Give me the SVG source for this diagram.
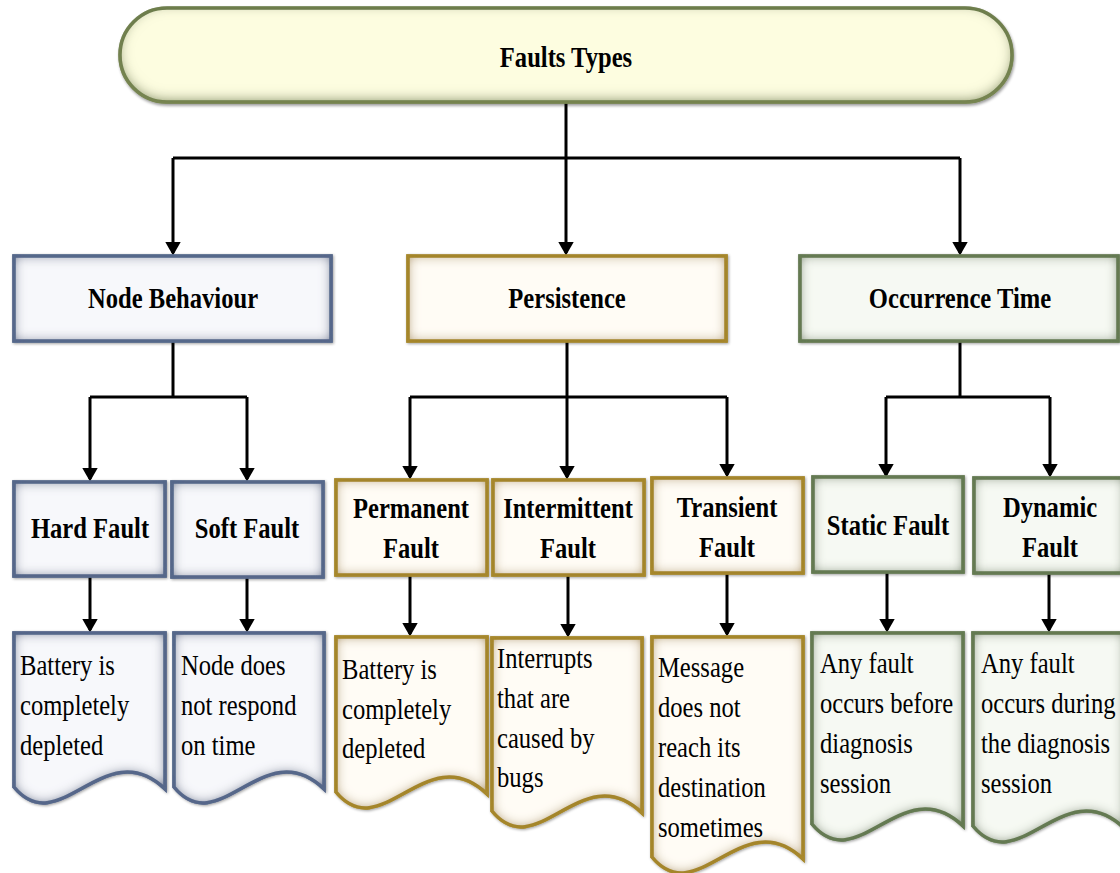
<svg xmlns="http://www.w3.org/2000/svg" width="1120" height="873" viewBox="0 0 1120 873">
  <style>
    .head { font-family: "Liberation Serif", "Times New Roman", serif; font-size: 30px; font-weight: bold; fill: #000; text-anchor: middle; }
    .body { font-family: "Liberation Serif", "Times New Roman", serif; font-size: 30px; fill: #000; }
    .blue  { fill: #f7f8fb; stroke: #56678a; stroke-width: 3.5; filter: url(#glow-blue); }
    .gold  { fill: #fffcf5; stroke: #a0822c; stroke-width: 3.5; filter: url(#glow-gold); }
    .green { fill: #f6f9f3; stroke: #657a53; stroke-width: 3.5; filter: url(#glow-green); }
    .pill  { fill: #fdfde0; stroke: #66774a; stroke-width: 3.5; filter: url(#glow-pill); }
    .conn path { fill: none; stroke: #000; stroke-width: 3; }
    .conn .arrow { marker-end: url(#head); }
  </style>
  <defs>
    <marker id="head" viewBox="0 0 14 16" refX="11.5" refY="8" markerWidth="14" markerHeight="16" markerUnits="userSpaceOnUse" orient="auto">
      <path d="M0,0 L14,8 L0,16 Z" fill="#000"/>
    </marker>
    <!-- soft inner edge tint plus a faint outer shadow -->
    <filter id="glow-blue" x="-10%" y="-10%" width="120%" height="120%">
      <feGaussianBlur in="SourceAlpha" stdDeviation="1.5" result="sb"/>
      <feOffset in="sb" dx="1" dy="1" result="so"/>
      <feComponentTransfer in="so" result="shadow"><feFuncA type="linear" slope="0.4"/></feComponentTransfer>
      <feFlood flood-color="#56678a" result="c"/>
      <feComposite in="c" in2="SourceAlpha" operator="out" result="outside"/>
      <feGaussianBlur in="outside" stdDeviation="6.5" result="blur"/>
      <feComponentTransfer in="blur" result="boost"><feFuncA type="linear" slope="1.5"/></feComponentTransfer>
      <feComposite in="boost" in2="SourceAlpha" operator="in" result="inner"/>
      <feMerge><feMergeNode in="shadow"/><feMergeNode in="SourceGraphic"/><feMergeNode in="inner"/></feMerge>
    </filter>
    <filter id="glow-gold" x="-10%" y="-10%" width="120%" height="120%">
      <feGaussianBlur in="SourceAlpha" stdDeviation="1.5" result="sb"/>
      <feOffset in="sb" dx="1" dy="1" result="so"/>
      <feComponentTransfer in="so" result="shadow"><feFuncA type="linear" slope="0.4"/></feComponentTransfer>
      <feFlood flood-color="#a8892f" result="c"/>
      <feComposite in="c" in2="SourceAlpha" operator="out" result="outside"/>
      <feGaussianBlur in="outside" stdDeviation="6.5" result="blur"/>
      <feComponentTransfer in="blur" result="boost"><feFuncA type="linear" slope="1.4"/></feComponentTransfer>
      <feComposite in="boost" in2="SourceAlpha" operator="in" result="inner"/>
      <feMerge><feMergeNode in="shadow"/><feMergeNode in="SourceGraphic"/><feMergeNode in="inner"/></feMerge>
    </filter>
    <filter id="glow-green" x="-10%" y="-10%" width="120%" height="120%">
      <feGaussianBlur in="SourceAlpha" stdDeviation="1.5" result="sb"/>
      <feOffset in="sb" dx="1" dy="1" result="so"/>
      <feComponentTransfer in="so" result="shadow"><feFuncA type="linear" slope="0.4"/></feComponentTransfer>
      <feFlood flood-color="#657a53" result="c"/>
      <feComposite in="c" in2="SourceAlpha" operator="out" result="outside"/>
      <feGaussianBlur in="outside" stdDeviation="6.5" result="blur"/>
      <feComponentTransfer in="blur" result="boost"><feFuncA type="linear" slope="1.4"/></feComponentTransfer>
      <feComposite in="boost" in2="SourceAlpha" operator="in" result="inner"/>
      <feMerge><feMergeNode in="shadow"/><feMergeNode in="SourceGraphic"/><feMergeNode in="inner"/></feMerge>
    </filter>
    <filter id="glow-pill" x="-5%" y="-20%" width="110%" height="140%">
      <feGaussianBlur in="SourceAlpha" stdDeviation="1.5" result="sb"/>
      <feOffset in="sb" dx="1" dy="2" result="so"/>
      <feComponentTransfer in="so" result="shadow"><feFuncA type="linear" slope="0.4"/></feComponentTransfer>
      <feFlood flood-color="#7d8a55" result="c"/>
      <feComposite in="c" in2="SourceAlpha" operator="out" result="outside"/>
      <feOffset in="outside" dx="0" dy="-3" result="up"/>
      <feGaussianBlur in="up" stdDeviation="7" result="blur"/>
      <feComponentTransfer in="blur" result="boost"><feFuncA type="linear" slope="1.2"/></feComponentTransfer>
      <feComposite in="boost" in2="SourceAlpha" operator="in" result="inner"/>
      <feMerge><feMergeNode in="shadow"/><feMergeNode in="SourceGraphic"/><feMergeNode in="inner"/></feMerge>
    </filter>
  </defs>

  <rect width="1120" height="873" fill="#fff"/>

  <!-- connectors -->
  <g id="connectors" class="conn">
    <path class="arrow" d="M566,102 V253"/>
    <path d="M173,158 H960"/>
    <path class="arrow" d="M173,158 V253"/>
    <path class="arrow" d="M960,158 V253"/>

    <path d="M173,341 V397"/>
    <path d="M90,397 H247"/>
    <path class="arrow" d="M90,397 V479"/>
    <path class="arrow" d="M247,397 V479"/>

    <path class="arrow" d="M567,341 V477"/>
    <path d="M410,397 H727"/>
    <path class="arrow" d="M410,397 V477"/>
    <path class="arrow" d="M727,397 V475"/>

    <path d="M960,341 V397"/>
    <path d="M886,397 H1050"/>
    <path class="arrow" d="M886,397 V475"/>
    <path class="arrow" d="M1050,397 V475"/>

    <path class="arrow" d="M90,576 V630"/>
    <path class="arrow" d="M247,577 V630"/>
    <path class="arrow" d="M410,575 V634"/>
    <path class="arrow" d="M568,575 V635"/>
    <path class="arrow" d="M727,573 V634"/>
    <path class="arrow" d="M887,572 V630"/>
    <path class="arrow" d="M1049,573 V630"/>
  </g>

  <!-- root -->
  <g id="faults-types">
    <rect class="pill" x="120" y="8" width="892" height="94" rx="47" ry="47"/>
    <text class="head" transform="translate(566,67) scale(0.82,1)">Faults Types</text>
  </g>

  <!-- categories -->
  <g id="node-behaviour">
    <rect class="blue" x="14" y="256" width="317" height="85"/>
    <text class="head" transform="translate(173,308) scale(0.82,1)">Node Behaviour</text>
  </g>
  <g id="persistence">
    <rect class="gold" x="408" y="256" width="318" height="85"/>
    <text class="head" transform="translate(567,308) scale(0.82,1)">Persistence</text>
  </g>
  <g id="occurrence-time">
    <rect class="green" x="800" y="256" width="318" height="85"/>
    <text class="head" transform="translate(960,308) scale(0.82,1)">Occurrence Time</text>
  </g>

  <!-- fault types -->
  <g id="hard-fault">
    <rect class="blue" x="14" y="482" width="151" height="94"/>
    <text class="head" transform="translate(90,538) scale(0.82,1)">Hard Fault</text>
  </g>
  <g id="soft-fault">
    <rect class="blue" x="172" y="482" width="151" height="95"/>
    <text class="head" transform="translate(247,538) scale(0.82,1)">Soft Fault</text>
  </g>
  <g id="permanent-fault">
    <rect class="gold" x="336" y="480" width="151" height="95"/>
    <text class="head" transform="translate(411,518) scale(0.82,1)">Permanent</text>
    <text class="head" transform="translate(411,558) scale(0.82,1)">Fault</text>
  </g>
  <g id="intermittent-fault">
    <rect class="gold" x="493" y="480" width="151" height="95"/>
    <text class="head" transform="translate(568,518) scale(0.82,1)">Intermittent</text>
    <text class="head" transform="translate(568,558) scale(0.82,1)">Fault</text>
  </g>
  <g id="transient-fault">
    <rect class="gold" x="652" y="478" width="151" height="95"/>
    <text class="head" transform="translate(727,517) scale(0.82,1)">Transient</text>
    <text class="head" transform="translate(727,557) scale(0.82,1)">Fault</text>
  </g>
  <g id="static-fault">
    <rect class="green" x="813" y="477" width="150" height="95"/>
    <text class="head" transform="translate(888,535) scale(0.82,1)">Static Fault</text>
  </g>
  <g id="dynamic-fault">
    <rect class="green" x="974" y="478" width="150" height="95"/>
    <text class="head" transform="translate(1050,517) scale(0.82,1)">Dynamic</text>
    <text class="head" transform="translate(1050,557) scale(0.82,1)">Fault</text>
  </g>

  <!-- descriptions -->
  <g id="hard-fault-desc">
    <path class="blue" d="M14,633 H165 V789 C104.6,732 59.3,842 14,787 Z"/>
    <text class="body" transform="translate(20,675) scale(0.82,1)">Battery is</text>
    <text class="body" transform="translate(20,715) scale(0.82,1)">completely</text>
    <text class="body" transform="translate(20,755) scale(0.82,1)">depleted</text>
  </g>
  <g id="soft-fault-desc">
    <path class="blue" d="M174,633 H324 V789 C264,732 219,842 174,787 Z"/>
    <text class="body" transform="translate(181,675) scale(0.82,1)">Node does</text>
    <text class="body" transform="translate(181,715) scale(0.82,1)">not respond</text>
    <text class="body" transform="translate(181,755) scale(0.82,1)">on time</text>
  </g>
  <g id="permanent-fault-desc">
    <path class="gold" d="M336,637 H487 V794 C426.6,737 381.3,847 336,792 Z"/>
    <text class="body" transform="translate(342,679) scale(0.82,1)">Battery is</text>
    <text class="body" transform="translate(342,719) scale(0.82,1)">completely</text>
    <text class="body" transform="translate(342,758) scale(0.82,1)">depleted</text>
  </g>
  <g id="intermittent-fault-desc">
    <path class="gold" d="M492,638 H642 V813 C582,756 537,866 492,811 Z"/>
    <text class="body" transform="translate(497,668) scale(0.82,1)">Interrupts</text>
    <text class="body" transform="translate(497,708) scale(0.82,1)">that are</text>
    <text class="body" transform="translate(497,748) scale(0.82,1)">caused by</text>
    <text class="body" transform="translate(497,787) scale(0.82,1)">bugs</text>
  </g>
  <g id="transient-fault-desc">
    <path class="gold" d="M652,637 H803 V859 C742.6,802 697.3,912 652,857 Z"/>
    <text class="body" transform="translate(658,677) scale(0.82,1)">Message</text>
    <text class="body" transform="translate(658,717) scale(0.82,1)">does not</text>
    <text class="body" transform="translate(658,757) scale(0.82,1)">reach its</text>
    <text class="body" transform="translate(658,797) scale(0.82,1)">destination</text>
    <text class="body" transform="translate(658,837) scale(0.82,1)">sometimes</text>
  </g>
  <g id="static-fault-desc">
    <path class="green" d="M812,633 H963 V826 C902.6,769 857.3,879 812,824 Z"/>
    <text class="body" transform="translate(820,673) scale(0.82,1)">Any fault</text>
    <text class="body" transform="translate(820,713) scale(0.82,1)">occurs before</text>
    <text class="body" transform="translate(820,753) scale(0.82,1)">diagnosis</text>
    <text class="body" transform="translate(820,793) scale(0.82,1)">session</text>
  </g>
  <g id="dynamic-fault-desc">
    <path class="green" d="M973,633 H1124 V828 C1063.6,771 1018.3,881 973,826 Z"/>
    <text class="body" transform="translate(981,673) scale(0.82,1)">Any fault</text>
    <text class="body" transform="translate(981,713) scale(0.82,1)">occurs during</text>
    <text class="body" transform="translate(981,753) scale(0.82,1)">the diagnosis</text>
    <text class="body" transform="translate(981,793) scale(0.82,1)">session</text>
  </g>
</svg>
